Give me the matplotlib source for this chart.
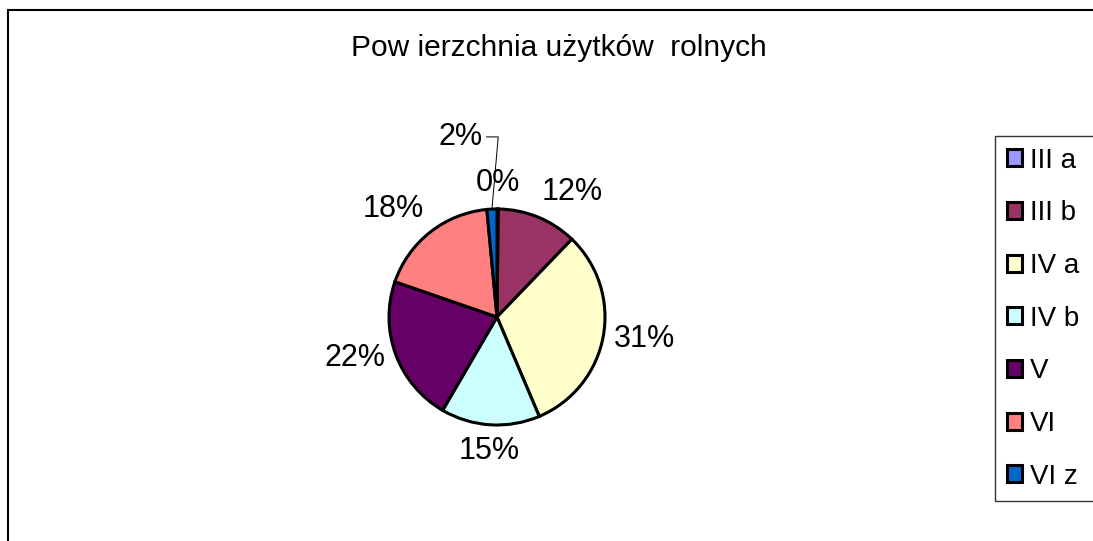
import numpy as np
import matplotlib
matplotlib.use("Agg")
import matplotlib.pyplot as plt
from matplotlib.patches import Rectangle

plt.rcParams["font.family"] = ["Liberation Sans", "DejaVu Sans"]

categories = ["III a", "III b", "IV a", "IV b", "V", "VI", "VI z"]
shares = [0.2, 12.0, 31.4, 14.8, 21.9, 18.2, 1.5]
colors = ["#9999FF", "#993366", "#FFFFCC", "#CCFFFF", "#660066", "#FF8080", "#0066CC"]
title = "Pow ierzchnia użytków  rolnych"

W, H = 1093, 541
fig = plt.figure(figsize=(W / 100, H / 100), dpi=100)

# chart area frame (runs off right and bottom edge)
fig.patches.append(Rectangle((8 / W, -0.2), 1.5, 1.2 - 10 / H, transform=fig.transFigure,
                             fill=False, edgecolor="black", lw=1.5))

fig.text(559 / W, 1 - 48 / H, title, ha="center", va="center", fontsize=21.5)

cx, cy, r = 497, 317, 108
ax = fig.add_axes([(cx - r) / W, (H - cy - r) / H, 2 * r / W, 2 * r / H])
wedges, _ = ax.pie(shares, colors=colors, startangle=90, counterclock=False,
                   wedgeprops=dict(edgecolor="black", linewidth=2.2))
ax.set_xlim(-1, 1)
ax.set_ylim(-1, 1)
ax.set_aspect("equal")
ax.axis("off")

for i, w in enumerate(wedges):
    ang = np.deg2rad((w.theta1 + w.theta2) / 2)
    s, c = np.cos(ang), np.sin(ang)
    txt = f"{shares[i]:.0f}%"
    if categories[i] == "VI z":
        ax.annotate(txt, xy=(s, c), xytext=(-7, 52), textcoords="offset points",
                    ha="right", va="center", fontsize=22,
                    arrowprops=dict(arrowstyle="-", color="black", lw=0.7,
                                    shrinkA=1, shrinkB=0,
                                    connectionstyle="angle,angleA=0,angleB=85,rad=0"))
        continue
    ha = "left" if s > 0.3 else ("right" if s < -0.3 else "center")
    va = "bottom" if c > 0.5 else ("top" if c < -0.5 else "center")
    ax.text(1.1 * s, 1.1 * c, txt, ha=ha, va=va, fontsize=22)

leg = fig.legend(wedges, categories, loc="upper left", mode="expand",
                 bbox_to_anchor=(995 / W, 1 - 504 / H, 200 / W, 368 / H), fontsize=20,
                 frameon=True, fancybox=False, edgecolor="black",
                 handlelength=0.55, handleheight=0.55, handletextpad=0.3,
                 labelspacing=0.96, borderpad=0.42, borderaxespad=0)
leg.get_frame().set_linewidth(1.0)
for h in leg.legend_handles:
    h.set_linewidth(2.2)

fig.savefig("out.png", dpi=100)
